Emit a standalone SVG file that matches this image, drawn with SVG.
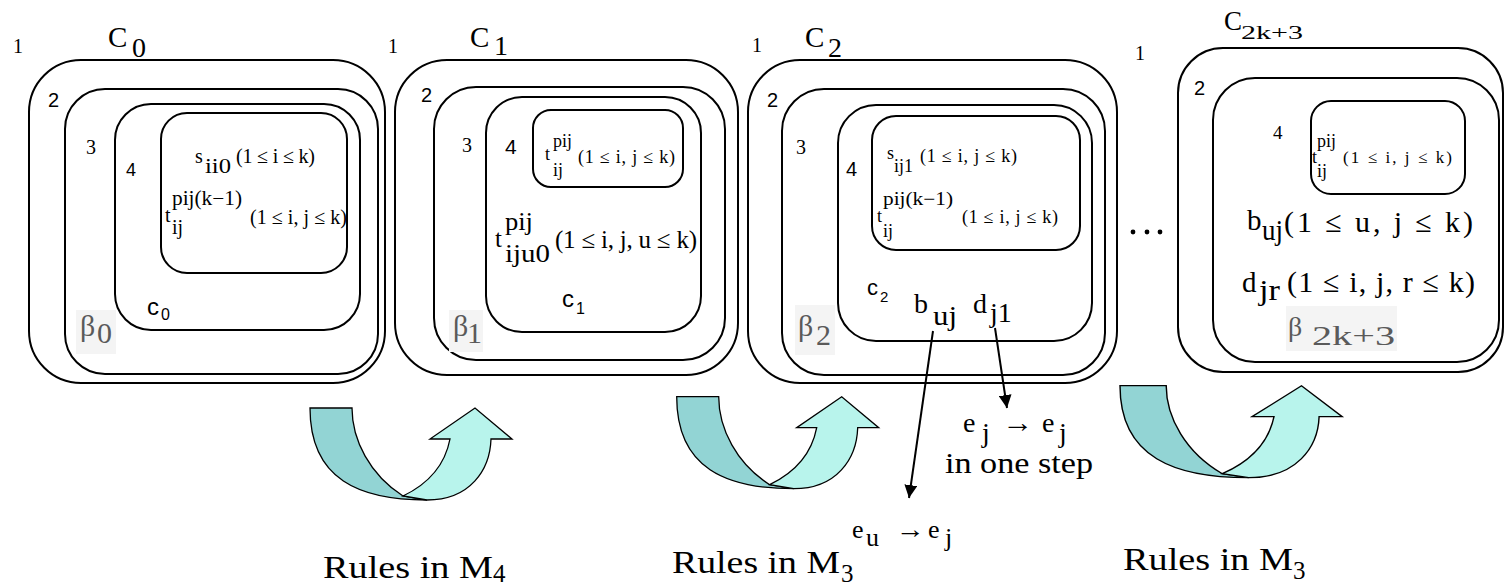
<svg xmlns="http://www.w3.org/2000/svg" width="1505" height="587" viewBox="0 0 1505 587">
<style>
.s{font-family:"Liberation Serif","Times New Roman",serif;fill:#000}
.a{font-family:"Liberation Sans",Arial,sans-serif;fill:#000}
.bx{fill:none;stroke:#000;stroke-width:2}
.bt{font-family:"Liberation Serif","Times New Roman",serif;fill:#5a5a5a}
.bg{fill:#f4f4f4}
.dk{fill:#92D4D4;stroke:#000;stroke-width:1.3}
.lt{fill:#B8F4EC;stroke:#000;stroke-width:1.3}
.ln{stroke:#000;stroke-width:2;fill:none}
</style>
<defs>
<marker id="ah" markerUnits="userSpaceOnUse" viewBox="0 0 13 13" refX="13" refY="6.5" markerWidth="13" markerHeight="13" orient="auto">
<path d="M0,0 L13,6.5 L0,13 Z" fill="#000"/>
</marker>
<g id="uarrow">
<path class="dk" d="M0,0 L42,0 C42,32 60,67 93,88 L117,92 C50,92 0,72 0,0 Z"/>
<path class="lt" d="M93,88 C118,76 135,57 140,31 L120,31 L165,0 L202,31 L181,31 C180,62 160,92 117,92 Z"/>
</g>
</defs>
<rect width="1505" height="587" fill="#fff"/>

<g id="C0">
<rect class="bx" x="29" y="60" width="356" height="323" rx="52"/>
<rect class="bx" x="65" y="89" width="313" height="285" rx="40"/>
<rect class="bx" x="115" y="104" width="245" height="226" rx="36"/>
<rect class="bx" x="161" y="113" width="186" height="160" rx="26"/>
<text class="s" x="13" y="53" font-size="20">1</text>
<text class="s" x="108" y="47" font-size="29">C</text>
<text class="s" x="132" y="57" font-size="28">0</text>
<text class="a" x="48" y="107" font-size="20">2</text>
<text class="s" x="86" y="154" font-size="20">3</text>
<text class="a" x="126" y="176" font-size="18">4</text>
<text class="s" x="195" y="163" font-size="20">s</text>
<text class="s" x="205" y="173" font-size="20" textLength="26" lengthAdjust="spacingAndGlyphs">ii0</text>
<text class="s" x="236" y="163" font-size="20" textLength="79">(1 ≤ i ≤ k)</text>
<text class="s" x="165" y="222" font-size="20">t</text>
<text class="s" x="172" y="205" font-size="20" textLength="70" lengthAdjust="spacingAndGlyphs">pij(k−1)</text>
<text class="s" x="172" y="234" font-size="20">ij</text>
<text class="s" x="250" y="224" font-size="20" textLength="97">(1 ≤ i, j ≤ k)</text>
<text class="a" x="147" y="315" font-size="24">c</text>
<text class="a" x="161" y="320" font-size="16">0</text>
<rect class="bg" x="76" y="310" width="40" height="44"/>
<text class="bt" x="80" y="336" font-size="30">β</text>
<text class="bt" x="97" y="343" font-size="30">0</text>
</g>

<g id="C1">
<rect class="bx" x="395" y="60" width="343" height="315" rx="52"/>
<rect class="bx" x="434" y="87" width="291" height="273" rx="42"/>
<rect class="bx" x="486" y="97" width="215" height="235" rx="36"/>
<rect class="bx" x="533" y="110" width="150" height="77" rx="18"/>
<text class="s" x="388" y="53" font-size="20">1</text>
<text class="s" x="470" y="47" font-size="29">C</text>
<text class="s" x="494" y="55" font-size="28">1</text>
<text class="a" x="421" y="102" font-size="20">2</text>
<text class="s" x="462" y="152" font-size="20">3</text>
<text class="a" x="505" y="154" font-size="21">4</text>
<text class="s" x="545" y="160" font-size="18">t</text>
<text class="s" x="553" y="147" font-size="18" textLength="19" lengthAdjust="spacingAndGlyphs">pij</text>
<text class="s" x="553" y="176" font-size="18">ij</text>
<text class="s" x="578" y="163" font-size="18" textLength="97">(1 ≤ i, j ≤ k)</text>
<text class="s" x="495" y="247" font-size="25">t</text>
<text class="s" x="505" y="230" font-size="25" textLength="28" lengthAdjust="spacingAndGlyphs">pij</text>
<text class="s" x="505" y="262" font-size="25" textLength="45" lengthAdjust="spacingAndGlyphs">iju0</text>
<text class="s" x="555" y="248" font-size="25" textLength="142">(1 ≤ i, j, u ≤ k)</text>
<text class="a" x="562" y="307" font-size="24">c</text>
<text class="a" x="576" y="314" font-size="16">1</text>
<rect class="bg" x="449" y="310" width="34" height="42"/>
<text class="bt" x="453" y="336" font-size="30">β</text>
<text class="bt" x="467" y="343" font-size="30">1</text>
</g>

<g id="C2">
<rect class="bx" x="748" y="60" width="369" height="323" rx="52"/>
<rect class="bx" x="782" y="89" width="323" height="286" rx="42"/>
<rect class="bx" x="838" y="105" width="254" height="236" rx="38"/>
<rect class="bx" x="872" y="116" width="208" height="134" rx="24"/>
<text class="s" x="752" y="52" font-size="20">1</text>
<text class="s" x="805" y="47" font-size="29">C</text>
<text class="s" x="828" y="57" font-size="28">2</text>
<text class="a" x="767" y="107" font-size="20">2</text>
<text class="s" x="796" y="154" font-size="20">3</text>
<text class="a" x="846" y="176" font-size="20">4</text>
<text class="s" x="887" y="159" font-size="18">s</text>
<text class="s" x="894" y="172" font-size="18" textLength="19" lengthAdjust="spacingAndGlyphs">ij1</text>
<text class="s" x="920" y="162" font-size="18" textLength="97">(1 ≤ i, j ≤ k)</text>
<text class="s" x="877" y="222" font-size="18">t</text>
<text class="s" x="883" y="205" font-size="18" textLength="70" lengthAdjust="spacingAndGlyphs">pij(k−1)</text>
<text class="s" x="883" y="237" font-size="18">ij</text>
<text class="s" x="962" y="223" font-size="18" textLength="96">(1 ≤ i, j ≤ k)</text>
<text class="a" x="867" y="295" font-size="22">c</text>
<text class="a" x="880" y="302" font-size="15">2</text>
<text class="s" x="914" y="313" font-size="28">b</text>
<text class="s" x="933" y="325" font-size="28" textLength="24" lengthAdjust="spacingAndGlyphs">uj</text>
<text class="s" x="973" y="313" font-size="28">d</text>
<text class="s" x="990" y="322" font-size="28">j1</text>
<rect class="bg" x="795" y="305" width="40" height="50"/>
<text class="bt" x="798" y="336" font-size="30">β</text>
<text class="bt" x="816" y="345" font-size="30">2</text>
</g>

<g id="ellipsis">
<circle cx="1133" cy="232" r="2.4" fill="#000"/>
<circle cx="1147" cy="232" r="2.4" fill="#000"/>
<circle cx="1160" cy="232" r="2.4" fill="#000"/>
</g>

<g id="C2k3">
<rect class="bx" x="1178" y="48" width="325" height="324" rx="45"/>
<rect class="bx" x="1213" y="78" width="286" height="284" rx="42"/>
<rect class="bx" x="1311" y="101" width="154" height="93" rx="20"/>
<text class="s" x="1135" y="60" font-size="20">1</text>
<text class="s" x="1224" y="30" font-size="27">C</text>
<text class="s" x="1241" y="39" font-size="19" textLength="62" lengthAdjust="spacingAndGlyphs">2k+3</text>
<text class="a" x="1194" y="95" font-size="20">2</text>
<text class="s" x="1273" y="139" font-size="19">4</text>
<text class="s" x="1312" y="163" font-size="18">t</text>
<text class="s" x="1317" y="147" font-size="18" textLength="19" lengthAdjust="spacingAndGlyphs">pij</text>
<text class="s" x="1317" y="177" font-size="18">ij</text>
<text class="s" x="1343" y="163" font-size="17" textLength="109">(1 ≤ i, j ≤ k)</text>
<text class="s" x="1247" y="230" font-size="29">b</text>
<text class="s" x="1262" y="240" font-size="29" textLength="21" lengthAdjust="spacingAndGlyphs">uj</text>
<text class="s" x="1284" y="232" font-size="30" textLength="189">(1 ≤ u, j ≤ k)</text>
<text class="s" x="1242" y="292" font-size="29">d</text>
<text class="s" x="1259" y="300" font-size="29" textLength="21" lengthAdjust="spacingAndGlyphs">jr</text>
<text class="s" x="1287" y="292" font-size="30" textLength="188">(1 ≤ i, j, r ≤ k)</text>
<rect class="bg" x="1286" y="306" width="111" height="45"/>
<text class="bt" x="1288" y="336" font-size="28">β</text>
<text class="bt" x="1312" y="345" font-size="28" textLength="83" lengthAdjust="spacingAndGlyphs">2k+3</text>
</g>

<g id="connectors">
<use href="#uarrow" transform="translate(310,408)"/>
<use href="#uarrow" transform="translate(676.7,396.7)"/>
<use href="#uarrow" transform="translate(1120,385.7) scale(1.1,1)"/>
<line class="ln" x1="933" y1="331" x2="909" y2="498" marker-end="url(#ah)"/>
<line class="ln" x1="995" y1="328" x2="1007" y2="408" marker-end="url(#ah)"/>
</g>

<g id="labels">
<text class="s" x="963" y="432" font-size="28">e</text>
<text class="s" x="982" y="442" font-size="28">j</text>
<text class="s" x="1002" y="432" font-size="28" textLength="31" lengthAdjust="spacingAndGlyphs">→</text>
<text class="s" x="1042" y="432" font-size="28">e</text>
<text class="s" x="1059" y="442" font-size="28">j</text>
<text class="s" x="945" y="473" font-size="30" textLength="148" lengthAdjust="spacingAndGlyphs">in one step</text>
<text class="s" x="852" y="538" font-size="26">e</text>
<text class="s" x="866" y="546" font-size="26">u</text>
<text class="s" x="896" y="538" font-size="26" textLength="29" lengthAdjust="spacingAndGlyphs">→</text>
<text class="s" x="928" y="538" font-size="26">e</text>
<text class="s" x="945" y="546" font-size="26">j</text>
<text class="s" x="323" y="578" font-size="32" textLength="170" lengthAdjust="spacingAndGlyphs">Rules in M</text>
<text class="s" x="493" y="582" font-size="25">4</text>
<text class="s" x="672" y="573" font-size="32" textLength="168" lengthAdjust="spacingAndGlyphs">Rules in M</text>
<text class="s" x="841" y="582" font-size="25">3</text>
<text class="s" x="1123" y="570" font-size="32" textLength="170" lengthAdjust="spacingAndGlyphs">Rules in M</text>
<text class="s" x="1293" y="579" font-size="25">3</text>
</g>
</svg>
